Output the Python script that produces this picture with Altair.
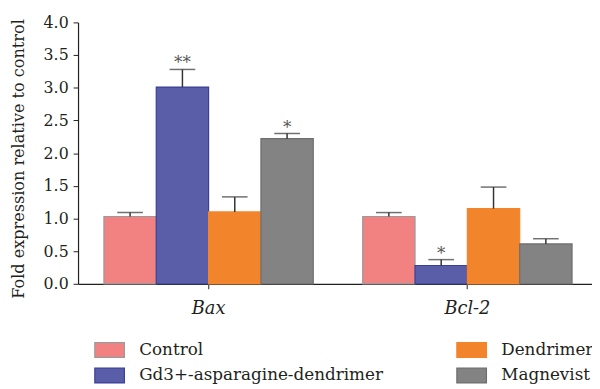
import altair as alt
import pandas as pd

genes = ["Bax", "Bax", "Bax", "Bax", "Bcl-2", "Bcl-2", "Bcl-2", "Bcl-2"]
groups = ["Control", "Gd3+-asparagine-dendrimer", "Dendrimer", "Magnevist"] * 2
means = [1.03, 3.01, 1.10, 2.22, 1.03, 0.28, 1.15, 0.61]
errors = [0.06, 0.27, 0.23, 0.08, 0.06, 0.09, 0.33, 0.08]
stars = ["", "**", "", "*", "", "*", "", ""]
y_ticks = [0.0, 0.5, 1.0, 1.5, 2.0, 2.5, 3.0, 3.5, 4.0]

bar_order = ["Control", "Gd3+-asparagine-dendrimer", "Dendrimer", "Magnevist"]
fills = ["#f28282", "#5a5ea8", "#f2842c", "#838383"]
strokes = ["#9a9a9a", "#3b3f96", "#f2842c", "#6e6e6e"]

df = pd.DataFrame({
    "gene": genes,
    "group": groups,
    "mean": means,
    "err": errors,
    "star": stars,
})
df["top"] = df["mean"] + df["err"]

FONT = "DejaVu Serif"

x = alt.X("gene:N", title=None, sort=["Bax", "Bcl-2"],
          scale=alt.Scale(paddingInner=0.191, paddingOuter=0.1),
          axis=alt.Axis(labelAngle=0, labelFont=FONT, labelFontSize=18, labelFontStyle="italic",
                        labelColor="#231f20", tickSize=5, labelPadding=11, domainColor="#231f20",
                        tickColor="#231f20", domainWidth=1.2))
xo = alt.XOffset("group:N", sort=bar_order, scale=alt.Scale(paddingInner=0, paddingOuter=0))

y_axis = alt.Axis(values=y_ticks, format=".1f", grid=False, labelOverlap=False,
                  labelFont=FONT, labelFontSize=16, labelColor="#231f20",
                  titleFont=FONT, titleFontSize=16.3, titleFontWeight="normal",
                  titleColor="#231f20", titlePadding=17, titleY=138,
                  tickSize=5, labelPadding=5,
                  domainColor="#231f20", tickColor="#231f20", domainWidth=1.2)
y_scale = alt.Scale(domain=[0, 4])
Y_TITLE = "Fold expression relative to control"

base = alt.Chart(df)

bars = base.mark_bar(strokeWidth=1.2).encode(
    x=x,
    xOffset=xo,
    y=alt.Y("mean:Q", title=Y_TITLE, scale=y_scale, axis=y_axis),
    fill=alt.Fill("group:N", scale=alt.Scale(domain=bar_order, range=fills),
                  legend=alt.Legend(title=None, orient="none", legendX=16, legendY=316,
                                    columns=2, columnPadding=71, rowPadding=0, padding=0,
                                    labelFont=FONT, labelFontSize=17, labelColor="#231f20",
                                    labelLimit=0,
                                    labelOffset=14, symbolType="M-1,-0.5H1V0.5H-1Z",
                                    symbolSize=900, symbolStrokeWidth=1.2,
                                    symbolStrokeColor="#8a8a8a", symbolOpacity=1)),
    stroke=alt.Stroke("group:N", scale=alt.Scale(domain=bar_order, range=strokes),
                      legend=None),
)

rules = base.mark_rule(color="#333333", strokeWidth=1.5).encode(
    x=x, xOffset=xo,
    y=alt.Y("mean:Q", title=Y_TITLE, scale=y_scale, axis=y_axis),
    y2="top:Q"
)

caps = base.mark_tick(color="#333333", thickness=1.5, size=26, orient="horizontal").encode(
    x=x, xOffset=xo,
    y=alt.Y("top:Q", title=Y_TITLE, scale=y_scale, axis=y_axis)
)

text = base.mark_text(font=FONT, fontSize=17, color="#555555", baseline="alphabetic", dy=-1).encode(
    x=x, xOffset=xo,
    y=alt.Y("top:Q", title=Y_TITLE, scale=y_scale, axis=y_axis),
    text="star:N"
)

chart = alt.layer(bars, rules, caps, text).properties(
    width=527, height=265,
    autosize=alt.AutoSizeParams(type="none"),
    padding={"left": 71, "top": 12, "right": -6, "bottom": 100},
).configure_view(stroke=None)

chart.save("out.html", embed_options={"renderer": "svg", "actions": False})
